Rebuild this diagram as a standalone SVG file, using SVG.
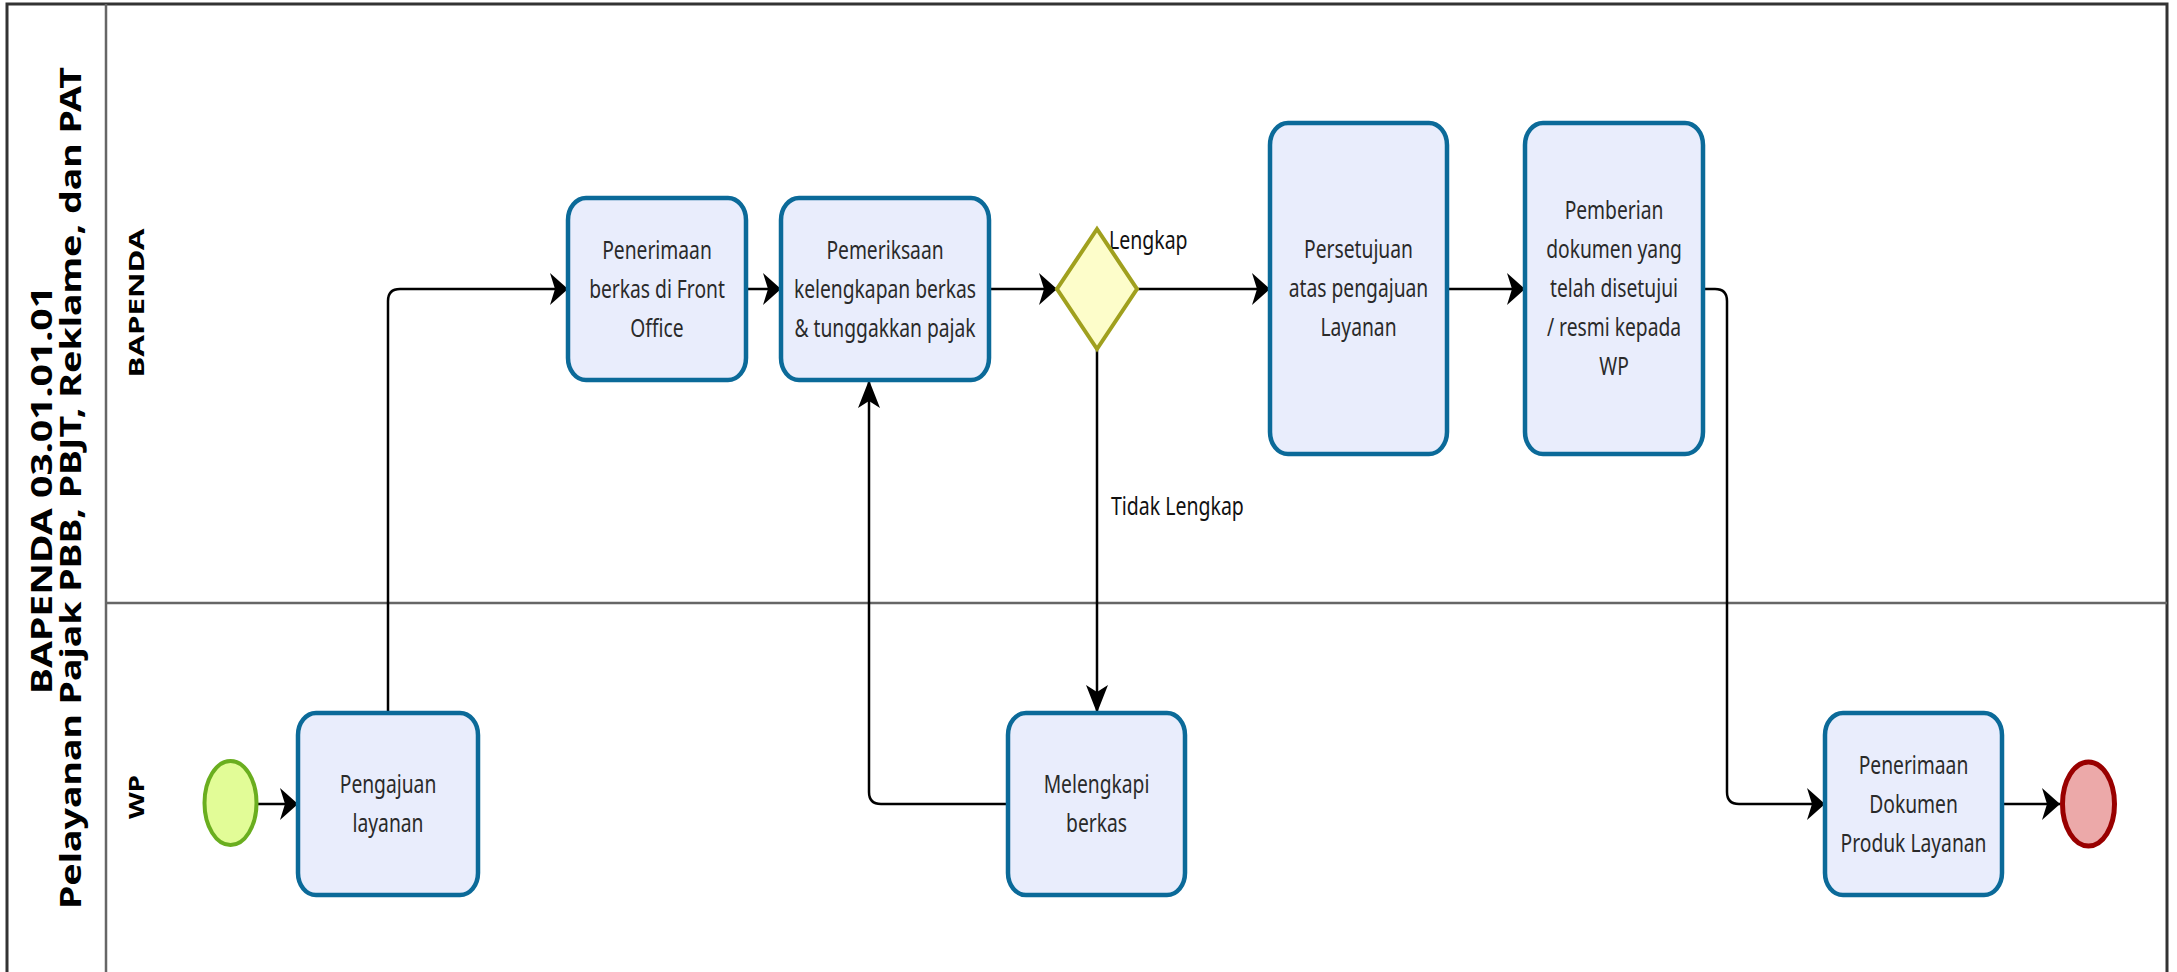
<svg xmlns="http://www.w3.org/2000/svg" width="2177" height="972" viewBox="0 0 2177 972">
<style>
.task{fill:#e9edfc;stroke:#0b6a99;stroke-width:4.5}
.lbl{font-family:"Noto Sans","Open Sans","Liberation Sans",sans-serif;font-size:25px;fill:#2a2a2a;text-anchor:middle}
.elbl{font-family:"Noto Sans","Open Sans","Liberation Sans",sans-serif;font-size:25px;fill:#111}
.pool{font-family:"Noto Sans","Open Sans","Liberation Sans",sans-serif;font-weight:bold;fill:#000;text-anchor:middle}
.conn{fill:none;stroke:#000;stroke-width:2.5}
</style>
<defs>
<marker id="ah" markerUnits="userSpaceOnUse" markerWidth="18" markerHeight="32" refX="18" refY="16" orient="auto" overflow="visible">
<path d="M0,0 L18,16 L0,32 L5,16 Z" fill="#000"/>
</marker>
<marker id="av" markerUnits="userSpaceOnUse" markerWidth="28" markerHeight="22" refX="28" refY="11" orient="auto" overflow="visible">
<path d="M0,0 L28,11 L0,22 L7,11 Z" fill="#000"/>
</marker>
</defs>
<rect width="2177" height="972" fill="#fff"/>
<g id="pool">
<rect x="7" y="4" width="2160" height="990" fill="none" stroke="#333" stroke-width="3"/>
<line x1="106" y1="4" x2="106" y2="994" stroke="#666" stroke-width="2.5"/>
<line x1="106" y1="603" x2="2167" y2="603" stroke="#666" stroke-width="2.5"/>
<text class="pool" font-size="28" transform="translate(52,490) rotate(-90)" x="0" y="0" textLength="408" lengthAdjust="spacingAndGlyphs">BAPENDA 03.01.01.01</text>
<text class="pool" font-size="28" transform="translate(81,488) rotate(-90)" x="0" y="0" textLength="842" lengthAdjust="spacingAndGlyphs">Pelayanan Pajak PBB, PBJT, Reklame, dan PAT</text>
<text class="pool" font-size="22" transform="translate(144,303) rotate(-90)" x="0" y="0" textLength="149" lengthAdjust="spacingAndGlyphs">BAPENDA</text>
<text class="pool" font-size="22" transform="translate(144,797) rotate(-90)" x="0" y="0" textLength="44" lengthAdjust="spacingAndGlyphs">WP</text>
</g>
<g id="connectors">
<path class="conn" d="M258,804 H298" marker-end="url(#ah)"/>
<path class="conn" d="M388,713 V301 Q388,289 400,289 H568" marker-end="url(#ah)"/>
<path class="conn" d="M746,289 H781" marker-end="url(#ah)"/>
<path class="conn" d="M989,289 H1057" marker-end="url(#ah)"/>
<path class="conn" d="M1137,289 H1270" marker-end="url(#ah)"/>
<path class="conn" d="M1097,349 V713" marker-end="url(#av)"/>
<path class="conn" d="M1008,804 H881 Q869,804 869,792 V380" marker-end="url(#av)"/>
<path class="conn" d="M1447,289 H1525" marker-end="url(#ah)"/>
<path class="conn" d="M1703,289 H1715 Q1727,289 1727,301 V792 Q1727,804 1739,804 H1825" marker-end="url(#ah)"/>
<path class="conn" d="M2002,804 H2060" marker-end="url(#ah)"/>
<text class="elbl" transform="translate(1109,249) scale(0.78,1)">Lengkap</text>
<text class="elbl" transform="translate(1111,515) scale(0.78,1)">Tidak Lengkap</text>
</g>
<g id="start">
<ellipse cx="230.5" cy="803" rx="26" ry="42" fill="#e2fc97" stroke="#6aae1f" stroke-width="4"/>
</g>
<g id="end">
<ellipse cx="2088.5" cy="804" rx="26" ry="42" fill="#eca9a9" stroke="#990000" stroke-width="5"/>
</g>
<g id="gateway">
<polygon points="1097,229 1137,289 1097,349 1057,289" fill="#fdfdca" stroke="#a0a01e" stroke-width="4"/>
</g>
<g id="t-pengajuan">
<rect class="task" x="298" y="713" width="180" height="182" rx="18" ry="22"/>
<g transform="translate(388,0) scale(0.77,1)"><text class="lbl" x="0" y="793.5">Pengajuan</text><text class="lbl" x="0" y="832.5">layanan</text></g>
</g>
<g id="t-penerimaan">
<rect class="task" x="568" y="198" width="178" height="182" rx="18" ry="22"/>
<g transform="translate(657,0) scale(0.77,1)"><text class="lbl" x="0" y="259">Penerimaan</text><text class="lbl" x="0" y="298">berkas di Front</text><text class="lbl" x="0" y="337">Office</text></g>
</g>
<g id="t-pemeriksaan">
<rect class="task" x="781" y="198" width="208" height="182" rx="18" ry="22"/>
<g transform="translate(885,0) scale(0.77,1)"><text class="lbl" x="0" y="259">Pemeriksaan</text><text class="lbl" x="0" y="298">kelengkapan berkas</text><text class="lbl" x="0" y="337">&amp; tunggakkan pajak</text></g>
</g>
<g id="t-persetujuan">
<rect class="task" x="1270" y="123" width="177" height="331" rx="18" ry="22"/>
<g transform="translate(1358.5,0) scale(0.77,1)"><text class="lbl" x="0" y="258.5">Persetujuan</text><text class="lbl" x="0" y="297.5">atas pengajuan</text><text class="lbl" x="0" y="336.5">Layanan</text></g>
</g>
<g id="t-pemberian">
<rect class="task" x="1525" y="123" width="178" height="331" rx="18" ry="22"/>
<g transform="translate(1614,0) scale(0.77,1)"><text class="lbl" x="0" y="219.5">Pemberian</text><text class="lbl" x="0" y="258.5">dokumen yang</text><text class="lbl" x="0" y="297.5">telah disetujui</text><text class="lbl" x="0" y="336.5">/ resmi kepada</text><text class="lbl" x="0" y="375.5">WP</text></g>
</g>
<g id="t-melengkapi">
<rect class="task" x="1008" y="713" width="177" height="182" rx="18" ry="22"/>
<g transform="translate(1096.5,0) scale(0.77,1)"><text class="lbl" x="0" y="793.5">Melengkapi</text><text class="lbl" x="0" y="832.5">berkas</text></g>
</g>
<g id="t-penerimaan-dok">
<rect class="task" x="1825" y="713" width="177" height="182" rx="18" ry="22"/>
<g transform="translate(1913.5,0) scale(0.77,1)"><text class="lbl" x="0" y="774">Penerimaan</text><text class="lbl" x="0" y="813">Dokumen</text><text class="lbl" x="0" y="852">Produk Layanan</text></g>
</g>
</svg>
